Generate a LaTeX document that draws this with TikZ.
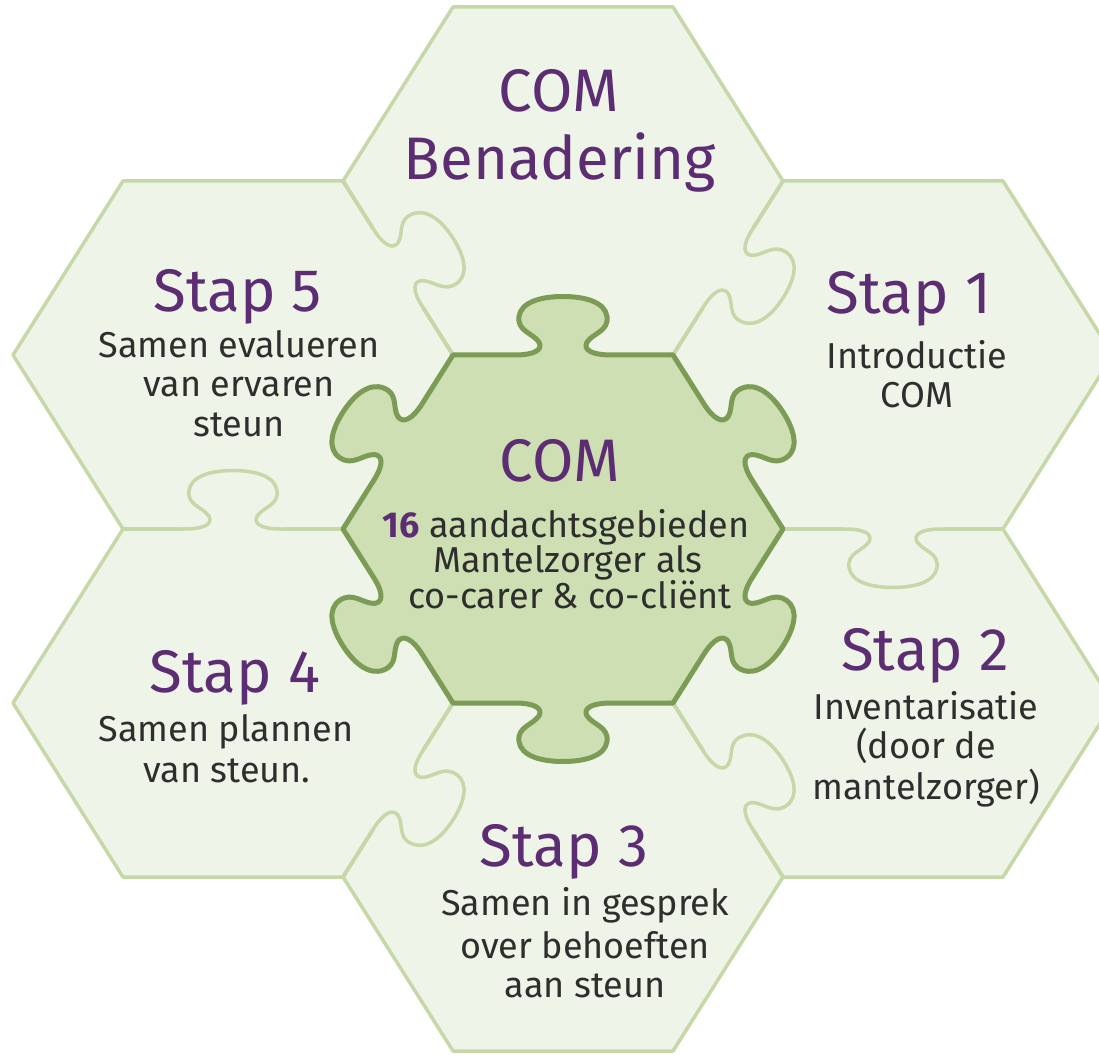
\documentclass[tikz,border=0pt]{standalone}
\usepackage{fontspec}
\setmainfont{Fira Sans}

\definecolor{hexfill}{HTML}{EEF4E7}
\definecolor{hexedge}{HTML}{C6D7A8}
\definecolor{corefill}{HTML}{CDDFB3}
\definecolor{coreedge}{HTML}{7C9C55}
\definecolor{steppurple}{HTML}{5C2D73}
\definecolor{bodygray}{HTML}{2E2E2E}

% puzzle knob on a local edge from (-110,0) to (110,0), bulging to +y
\newcommand{\knob}{-- (-48,0) .. controls (-28,0) and (-20,6) .. (-24,14)
  .. controls (-30,24) and (-46,26) .. (-44,42)
  .. controls (-42,58) and (-22,64) .. (0,64)
  .. controls (22,64) and (42,58) .. (44,42)
  .. controls (46,26) and (30,24) .. (24,14)
  .. controls (20,6) and (28,0) .. (48,0) -- (110,0)}

% knob between two outer pieces: #1 edge middle, #2 edge angle
\newcommand{\tab}[2]{%
  \draw[hexfill, line width=6pt, shift={#1}, yscale=0.9134, rotate=#2] (-50,0) -- (50,0);
  \draw[outerline, shift={#1}, yscale=0.9134, rotate=#2] (-110,0) \knob;}

\begin{document}
\begin{tikzpicture}[x=1pt, y=1pt,
  outerline/.style={draw=hexedge, line width=3.5pt, line join=round},
  corepiece/.style={fill=corefill, draw=coreedge, line width=5pt, line join=round},
  steptitle/.style={anchor=base, inner sep=0pt, text=steppurple, font=\fontsize{60}{64}\selectfont},
  stepbody/.style={anchor=base, inner sep=0pt, text=bodygray, font=\fontsize{36}{40}\selectfont}]
  \useasboundingbox (-563,-525) rectangle (536,529);

  % outer pieces
  \foreach \c in {(0,348),(330,174),(330,-174),(0,-348),(-330,-174),(-330,174)}
    \fill[hexfill, shift={\c}] (-110,174) -- (110,174) -- (220,0) -- (110,-174) -- (-110,-174) -- (-220,0) -- cycle;
  \foreach \c in {(0,348),(330,174),(330,-174),(0,-348),(-330,-174),(-330,174)}
    \draw[outerline, shift={\c}] (-110,174) -- (110,174) -- (220,0) -- (110,-174) -- (-110,-174) -- (-220,0) -- cycle;

  % knobs between outer pieces
  \tab{(-165,261)}{-60}     % stap 5 into benadering
  \tab{(165,261)}{-120}     % benadering into stap 1
  \tab{(330,0)}{180}        % stap 1 into stap 2
  \tab{(165,-261)}{-60}     % stap 3 into stap 2
  \tab{(-165,-261)}{-120}   % stap 4 into stap 3
  \tab{(-330,0)}{0}         % stap 4 into stap 5

  % centre piece
  \path[corepiece] (-110,174)
    \foreach \k in {0,...,5} { {[yscale=0.9134, rotate=-60*\k, shift={(0,190.53)}] \knob} } -- cycle;

  % texts
  \node[steptitle] (bencom) at (-4,417) {COM};
  \node[steptitle] (ben) at (-3,349) {Benadering};

  \node[steptitle] (stap1) at (346,215) {Stap 1};
  \node[stepbody] (stap1a) at (354,160) {Introductie};
  \node[stepbody] (stap1b) at (354,121) {COM};

  \node[steptitle] (stap2) at (362,-141) {Stap 2};
  \node[stepbody] (stap2a) at (363,-190) {Inventarisatie};
  \node[stepbody] (stap2b) at (363,-229) {(door de};
  \node[stepbody] (stap2c) at (363,-270) {mantelzorger)};

  \node[steptitle] (stap3) at (1,-337) {Stap 3};
  \node[stepbody] (stap3a) at (22,-386) {Samen in gesprek};
  \node[stepbody] (stap3b) at (22,-429) {over behoeften};
  \node[stepbody] (stap3c) at (22,-468) {aan steun};

  \node[steptitle] (stap4) at (-328,-163) {Stap 4};
  \node[stepbody] (stap4a) at (-337,-212) {Samen plannen};
  \node[stepbody] (stap4b) at (-336,-253) {van steun.};

  \node[steptitle] (stap5) at (-325,217) {Stap 5};
  \node[stepbody] (stap5a) at (-324,171) {Samen evalueren};
  \node[stepbody] (stap5b) at (-324,132) {van ervaren};
  \node[stepbody] (stap5c) at (-324,92) {steun};

  \node[steptitle] (core) at (-3,47) {COM};
  \node[stepbody] (corea) at (3,-8) {{\bfseries\color{steppurple}16} aandachtsgebieden};
  \node[stepbody] (coreb) at (5,-43) {Mantelzorger als};
  \node[stepbody] (corec) at (7,-79) {co-carer \& co-cliënt};
\end{tikzpicture}
\end{document}
